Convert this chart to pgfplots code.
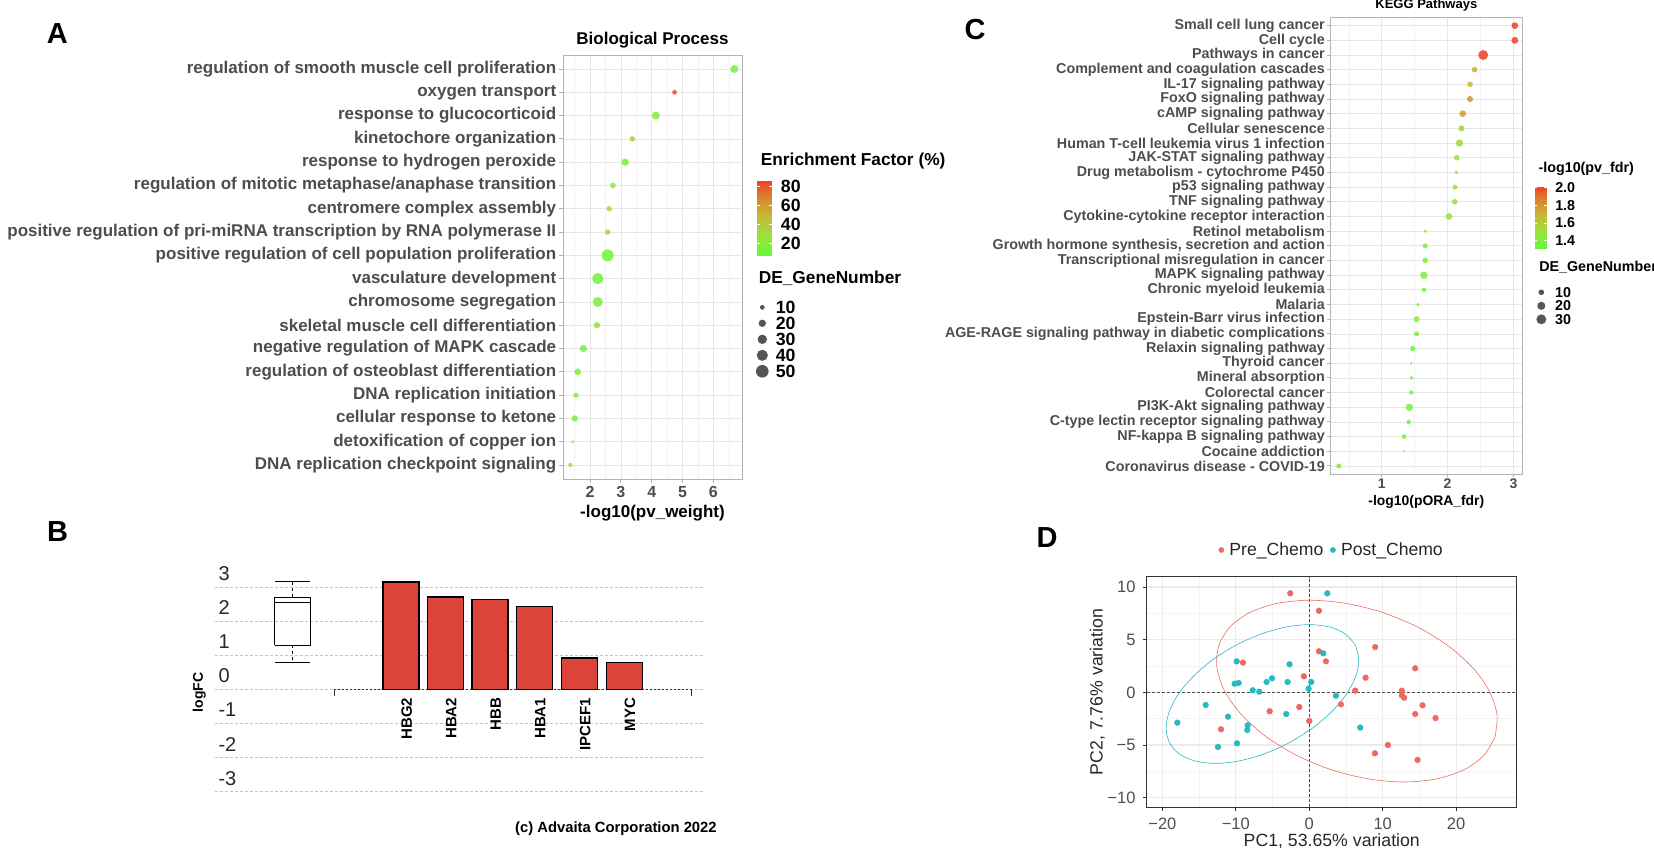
\documentclass[border=0pt]{standalone}
\usepackage{fontspec}
\setmainfont{Liberation Sans}
\usepackage{pgfplots}
\usepackage{pgfplotstable}
\pgfplotsset{compat=1.18}
\pgfplotsset{/pgf/number format/assume math mode=true}

\newcommand{\fs}[1]{\fontsize{#1}{#1}\selectfont}

\definecolor{grey20}{RGB}{51,51,51}
\definecolor{grey30}{RGB}{77,77,77}
\definecolor{grey70}{RGB}{179,179,179}
\definecolor{gridmaj}{RGB}{230,230,230}
\definecolor{gridmin}{RGB}{242,242,242}
\definecolor{gridD}{RGB}{235,235,235}
\definecolor{gridDmin}{RGB}{244,244,244}
\definecolor{gridB}{RGB}{195,195,195}
\definecolor{barred}{RGB}{220,68,58}
\definecolor{prered}{RGB}{238,106,94}
\definecolor{postcyan}{RGB}{40,185,196}
\definecolor{legdot}{RGB}{85,85,85}

\pgfplotsset{
  colormap={ggr}{rgb255=(100,248,60) rgb255=(150,228,60) rgb255=(195,190,55) rgb255=(215,140,50) rgb255=(238,65,40)},
  gglight/.style={
    scale only axis,
    axis line style={grey70, line width=0.9pt},
    tick align=outside, tick pos=left, tick style={grey70, line width=0.9pt},
    xmajorgrids, ymajorgrids, xminorgrids,
    major grid style={gridmaj, line width=0.7pt},
    minor grid style={gridmin, line width=0.5pt},
    minor tick length=0pt,
    y dir=reverse,
  },
  sizelegend/.style={
    scale only axis, xmin=0, xmax=1, y dir=reverse,
    axis line style={draw=none}, major tick length=0pt, xtick=\empty,
    yticklabel pos=right,
  },
}

% panel A: GO biological process
\pgfplotstableread{
y x ef n
1 6.68 15 23
2 4.74 85 10
3 4.13 18 23
4 3.37 36 13
5 3.14 18 20
6 2.74 24 14
7 2.62 31 13
8 2.57 28 13
9 2.57 12 45
10 2.25 12 41
11 2.25 15 33
12 2.22 27 16
13 1.78 15 20
14 1.60 15 17
15 1.54 18 12
16 1.50 15 16
17 1.44 40 5
18 1.36 30 9
}\tabA

\pgfplotstableread{
x y n
0.5 1 10
0.5 2 20
0.5 3 30
0.5 4 40
0.5 5 50
}\tabAsize

% panel C: KEGG pathways
\pgfplotstableread{
y x fdr n
1 3.02 2.05 14
2 3.02 2.05 15
3 2.54 2.05 30
4 2.41 1.72 10
5 2.34 1.70 10
6 2.34 1.80 12
7 2.23 1.80 14
8 2.21 1.58 12
9 2.18 1.55 17
10 2.14 1.50 10
11 2.13 1.50 5
12 2.11 1.48 8
13 2.11 1.48 10
14 2.02 1.45 14
15 1.66 1.38 4
16 1.66 1.42 8
17 1.66 1.38 10
18 1.64 1.40 17
19 1.64 1.38 7
20 1.55 1.38 4
21 1.53 1.40 11
22 1.53 1.40 8
23 1.47 1.33 9
24 1.45 1.35 2
25 1.45 1.35 4
26 1.45 1.38 6
27 1.42 1.38 17
28 1.41 1.38 6
29 1.34 1.35 7
30 1.34 1.45 2
31 0.35 1.50 8
}\tabC

\pgfplotstableread{
x y n
0.5 1 10
0.5 2 20
0.5 3 30
}\tabCsize

% panel D: PCA
\pgfplotstableread{
x y
-2.59 9.40
1.32 7.75
8.98 4.30
1.32 3.89
2.27 2.94
-9.03 2.82
14.43 2.28
7.67 1.39
-0.73 1.52
6.26 0.16
12.61 0.16
12.61 -0.28
12.93 -0.51
4.31 -1.14
15.43 -1.23
-1.36 -1.39
-5.40 -1.80
14.43 -2.06
17.20 -2.44
0.00 -2.72
-12.02 -3.51
10.71 -5.00
8.94 -5.79
14.75 -6.42
}\tabPre

\pgfplotstableread{
x y
2.45 9.40
1.91 3.70
-9.89 2.94
-2.68 2.66
-5.08 1.33
-5.81 0.98
-2.95 0.98
0.27 0.98
-10.16 0.82
-9.62 0.89
-7.71 0.19
-6.81 0.06
-0.09 0.35
3.63 -0.32
-14.11 -1.20
-3.13 -2.06
-11.07 -2.31
-17.97 -2.88
-8.39 -3.13
-8.44 -3.58
6.94 -3.35
-12.43 -5.19
-9.85 -4.84
}\tabPost

\begin{document}
\begin{tikzpicture}
\useasboundingbox (0pt,0pt) rectangle (1654pt,-848pt);

% ---------------- A ----------------
\begin{axis}[gglight,
  at={(563pt,-479pt)}, anchor=south west, width=179pt, height=424pt,
  xmin=1.12, xmax=6.93, ymin=0.4, ymax=18.6,
  xtick={2,3,4,5,6}, minor xtick={1.5,2.5,3.5,4.5,5.5,6.5},
  major tick length=4pt,
  ytick={1,...,18},
  yticklabels={regulation of smooth muscle cell proliferation, oxygen transport,
    response to glucocorticoid, kinetochore organization, response to hydrogen peroxide,
    regulation of mitotic metaphase/anaphase transition, centromere complex assembly,
    positive regulation of pri-miRNA transcription by RNA polymerase II,
    positive regulation of cell population proliferation, vasculature development,
    chromosome segregation, skeletal muscle cell differentiation,
    negative regulation of MAPK cascade, regulation of osteoblast differentiation,
    DNA replication initiation, cellular response to ketone,
    detoxification of copper ion, DNA replication checkpoint signaling},
  yticklabel style={font=\bfseries\fs{17}, text=grey30, inner xsep=2.6pt},
  xticklabel style={font=\bfseries\fs{16}, text=grey30, anchor=base, yshift=-14.4pt},
  title={Biological Process},
  title style={font=\bfseries\fs{17}, at={(axis description cs:0.5,1)}, anchor=base, yshift=4.5pt},
  xlabel={-log10(pv\_weight)},
  xlabel style={font=\bfseries\fs{17}, at={(axis description cs:0.5,0)}, anchor=base, yshift=-38.8pt},
  point meta min=6.9, point meta max=86.4,
  colorbar,
  colorbar style={
    at={(parent axis.north east)}, anchor=north west,
    xshift=6.8pt, yshift=-125.7pt,
    scale only axis, width=14.4pt, height=75pt,
    ytick={20,40,60,80},
    axis line style={draw=none},
    major tick length=2.9pt, tick align=inside, tick style={draw=white, line width=0.8pt},
    yticklabel style={font=\bfseries\fs{17.7}, text=black, inner xsep=9pt},
    title={Enrichment Factor (\%)},
    title style={font=\bfseries\fs{17.3}, at={(axis description cs:0,1)}, anchor=base west, yshift=9.7pt},
  },
]
\addplot[scatter, only marks, mark=*,
  scatter/use mapped color={draw opacity=0, fill=mapped color, fill opacity=0.85},
  point meta=\thisrow{ef},
  visualization depends on={\thisrow{n} \as \genes},
  scatter/@pre marker code/.append style={/tikz/mark size={1.02*sqrt(\genes)-0.88}}]
  table[x=x, y=y] {\tabA};
\end{axis}

\begin{axis}[sizelegend,
  at={(752.3pt,-299.3pt)}, anchor=north west, width=20pt, height=80pt,
  ymin=0.5, ymax=5.5, ytick={1,...,5}, yticklabels={10,20,30,40,50},
  yticklabel style={font=\bfseries\fs{17.7}, text=black},
  title={DE\_GeneNumber},
  title style={font=\bfseries\fs{17.3}, at={(axis description cs:0,1)}, anchor=base west, xshift=3pt, yshift=9.8pt},
]
\addplot[scatter, only marks, mark=*,
  scatter/use mapped color={draw opacity=0, fill=legdot},
  point meta=\thisrow{n},
  visualization depends on={\thisrow{n} \as \genes},
  scatter/@pre marker code/.append style={/tikz/mark size={1.02*sqrt(\genes)-0.88}}]
  table[x=x, y=y] {\tabAsize};
\end{axis}

% ---------------- C ----------------
\begin{axis}[gglight,
  at={(1330pt,-474pt)}, anchor=south west, width=192.7pt, height=457pt,
  xmin=0.215, xmax=3.14, ymin=0.41, ymax=31.55,
  xtick={1,2,3}, minor xtick={0.5,1.5,2.5},
  major tick length=3pt,
  ytick={1,...,31},
  yticklabels={Small cell lung cancer, Cell cycle, Pathways in cancer,
    Complement and coagulation cascades, IL-17 signaling pathway, FoxO signaling pathway,
    cAMP signaling pathway, Cellular senescence, Human T-cell leukemia virus 1 infection,
    JAK-STAT signaling pathway, Drug metabolism - cytochrome P450, p53 signaling pathway,
    TNF signaling pathway, Cytokine-cytokine receptor interaction, Retinol metabolism,
    {Growth hormone synthesis, secretion and action}, Transcriptional misregulation in cancer,
    MAPK signaling pathway, Chronic myeloid leukemia, Malaria, Epstein-Barr virus infection,
    AGE-RAGE signaling pathway in diabetic complications, Relaxin signaling pathway,
    Thyroid cancer, Mineral absorption, Colorectal cancer, PI3K-Akt signaling pathway,
    C-type lectin receptor signaling pathway, NF-kappa B signaling pathway,
    Cocaine addiction, Coronavirus disease - COVID-19},
  yticklabel style={font=\bfseries\fs{14.3}, text=grey30, inner xsep=2pt},
  xticklabel style={font=\bfseries\fs{14}, text=grey30, anchor=base, yshift=-11.3pt},
  title={KEGG Pathways},
  title style={font=\bfseries\fs{13}, inner sep=0pt, at={(axis description cs:0.5,1)}, anchor=base, yshift=2.3pt},
  xlabel={-log10(pORA\_fdr)},
  xlabel style={font=\bfseries\fs{13.9}, at={(axis description cs:0.5,0)}, anchor=base, yshift=-31pt},
  point meta min=1.317, point meta max=2.02,
  colorbar,
  colorbar style={
    at={(parent axis.north east)}, anchor=north west,
    xshift=3.8pt, yshift=-169pt,
    scale only axis, width=11.7pt, height=62pt,
    ytick={1.4,1.6,1.8,2.0}, yticklabels={1.4,1.6,1.8,2.0},
    axis line style={draw=none},
    major tick length=2.3pt, tick align=inside, tick style={draw=white, line width=0.7pt},
    yticklabel style={font=\bfseries\fs{14.3}, text=black, inner xsep=8.3pt},
    title={-log10(pv\_fdr)},
    title style={font=\bfseries\fs{14.3}, at={(axis description cs:0,1)}, anchor=base west, yshift=8pt},
  },
]
\addplot[scatter, only marks, mark=*,
  scatter/use mapped color={draw opacity=0, fill=mapped color, fill opacity=0.85},
  point meta=\thisrow{fdr},
  visualization depends on={\thisrow{n} \as \genes},
  scatter/@pre marker code/.append style={/tikz/mark size={0.92*sqrt(\genes)-0.08}}]
  table[x=x, y=y] {\tabC};
\end{axis}

\begin{axis}[sizelegend,
  at={(1535.3pt,-285.55pt)}, anchor=north west, width=12pt, height=40.5pt,
  ymin=0.5, ymax=3.5, ytick={1,2,3}, yticklabels={10,20,30},
  yticklabel style={font=\bfseries\fs{14.3}, text=black, inner xsep=7.7pt},
  title={DE\_GeneNumber},
  title style={font=\bfseries\fs{14.3}, at={(axis description cs:0,1)}, anchor=base west, xshift=0.4pt, yshift=7.85pt},
]
\addplot[scatter, only marks, mark=*,
  scatter/use mapped color={draw opacity=0, fill=legdot},
  point meta=\thisrow{n},
  visualization depends on={\thisrow{n} \as \genes},
  scatter/@pre marker code/.append style={/tikz/mark size={0.92*sqrt(\genes)-0.08}}]
  table[x=x, y=y] {\tabCsize};
\end{axis}

% ---------------- B ----------------
\begin{axis}[
  at={(215pt,-812.1pt)}, anchor=south west, scale only axis, width=490pt, height=245.6pt,
  xmin=215, xmax=705, ymin=-3.6, ymax=3.6,
  axis x line*=middle, axis y line*=left,
  axis line style={draw=none}, major tick length=0pt,
  ytick={-3,...,3}, yticklabels={-3,-2,-1,0,1,2,3},
  ymajorgrids, major grid style={gridB, dash pattern=on 2.5pt off 2.5pt, line width=0.9pt},
  yticklabel style={font=\fs{20}, text=black!85, anchor=west, yshift=13.4pt},
  xtick={401,445.5,490,534.5,579.5,624.3},
  xticklabels={HBG2,HBA2,HBB,HBA1,IPCEF1,MYC},
  xticklabel style={font=\bfseries\fs{15}, xshift=5.7pt, yshift=-5pt, rotate=90, anchor=east},
  ylabel={logFC},
  ylabel style={font=\bfseries\fs{14}, at={(axis description cs:-0.0322,0.487)}, anchor=center},
]
% box plot of all logFC values
\addplot[black, line width=1.2pt, line join=miter] coordinates {(274.5,1.29) (310.5,1.29) (310.5,2.70) (274.5,2.70) (274.5,1.29)};
\addplot[black, line width=1.2pt] coordinates {(274.5,2.54) (310.5,2.54)};
\addplot[black, line width=1pt, dash pattern=on 3pt off 3pt] coordinates {(292.5,2.70) (292.5,3.15)};
\addplot[black, line width=1pt, dash pattern=on 3pt off 3pt] coordinates {(292.5,1.29) (292.5,0.79)};
\addplot[black, line width=1.2pt] coordinates {(275,3.15) (310,3.15)};
\addplot[black, line width=1.2pt] coordinates {(275,0.79) (310,0.79)};
% baseline
\addplot[black!80, line width=0.8pt, dash pattern=on 2pt off 2pt] coordinates {(334.3,0) (691.7,0)};
\addplot[black!80, line width=0.8pt] coordinates {(334.3,0) (334.3,-0.21)};
\addplot[black!80, line width=0.8pt] coordinates {(691.7,0) (691.7,-0.21)};
% bars
\addplot[ybar, bar width=36pt, bar shift=0pt, fill=barred, draw=black, line width=1.3pt]
  coordinates {(401,3.15) (445.5,2.71) (490,2.63) (534.5,2.42) (579.5,0.92) (624.3,0.78)};
\end{axis}

% ---------------- D ----------------
\begin{axis}[
  at={(1146.7pt,-807.3pt)}, anchor=south west, scale only axis, width=370.1pt, height=230.6pt,
  xmin=-22.14, xmax=28.27, ymin=-10.92, ymax=10.98,
  xtick={-20,-10,0,10,20}, xticklabels={−20,−10,0,10,20},
  ytick={-10,-5,0,5,10}, yticklabels={−10,−5,0,5,10},
  minor x tick num=1, minor y tick num=1, minor tick length=0pt,
  grid=both, major grid style={gridD, line width=1.2pt}, minor grid style={gridDmin, line width=0.6pt},
  axis line style={grey20, line width=1pt},
  tick align=outside, tick pos=left, major tick length=3.5pt, tick style={grey20, line width=0.8pt},
  ticklabel style={font=\fs{16.5}, text=grey30},
  xticklabel style={anchor=base, yshift=-18.4pt},
  yticklabel style={inner xsep=7.5pt},
  xlabel={PC1, 53.65\% variation},
  xlabel style={font=\fs{17.7}, text=black!85, at={(axis description cs:0.5,0)}, anchor=base, yshift=-39pt},
  ylabel={PC2, 7.76\% variation},
  ylabel style={font=\fs{17.7}, text=black!85, at={(axis description cs:0,0.5)}, anchor=base, yshift=44pt},
  legend columns=2,
  legend image code/.code={\draw[#1, mark size=2.6pt] plot coordinates {(0pt,0pt)};},
  legend style={draw=none, fill=none, at={(axis description cs:0.5,1)}, anchor=center, yshift=26.7pt,
    font=\fs{17.6}, text=black!85,
    /tikz/every odd column/.append style={column sep=3.5pt},
    /tikz/every even column/.append style={column sep=5pt}},
  legend cell align=left,
]
\addplot[forget plot, grey30, line width=0.6pt, dash pattern=on 3pt off 2pt] coordinates {(0,-10.92) (0,10.98)};
\addplot[forget plot, grey30, line width=0.6pt, dash pattern=on 3pt off 2pt] coordinates {(-22.14,0) (28.27,0)};
\addplot[forget plot, prered, line width=0.6pt, smooth] coordinates {
  (25.30,-4.24) (23.74,-6.02) (21.01,-7.38) (17.29,-8.23) (12.83,-8.52) (7.94,-8.21)
  (2.95,-7.34) (-1.79,-5.96) (-5.97,-4.16) (-9.30,-2.07) (-11.56,0.16) (-12.58,2.39)
  (-12.30,4.47) (-10.74,6.25) (-8.01,7.61) (-4.29,8.46) (0.17,8.75) (5.06,8.44)
  (10.04,7.57) (14.79,6.19) (18.97,4.39) (22.30,2.31) (24.55,0.07) (25.58,-2.16) (25.30,-4.24)};
\addplot[forget plot, postcyan, line width=0.6pt, smooth] coordinates {
  (6.27,4.49) (6.75,3.12) (6.34,1.53) (5.06,-0.17) (3.00,-1.88) (0.30,-3.47)
  (-2.85,-4.83) (-6.24,-5.87) (-9.64,-6.53) (-12.82,-6.75) (-15.56,-6.52) (-17.68,-5.86)
  (-19.02,-4.81) (-19.50,-3.45) (-19.09,-1.86) (-17.81,-0.15) (-15.75,1.55) (-13.06,3.14)
  (-9.90,4.51) (-6.51,5.55) (-3.11,6.21) (0.07,6.43) (2.81,6.20) (4.92,5.54) (6.27,4.49)};
\addplot[only marks, mark=*, mark size=2.9pt, color=prered, mark options={draw=none, fill=prered}] table[x=x, y=y] {\tabPre};
\addlegendentry{Pre\_Chemo}
\addplot[only marks, mark=*, mark size=2.9pt, color=postcyan, mark options={draw=none, fill=postcyan}] table[x=x, y=y] {\tabPost};
\addlegendentry{Post\_Chemo}
\end{axis}

% panel letters and note
\node[font=\bfseries\fs{29}] at (57.3pt,-33.7pt) {A};
\node[font=\bfseries\fs{29}] at (57.5pt,-532pt) {B};
\node[font=\bfseries\fs{29}] at (975pt,-30pt) {C};
\node[font=\bfseries\fs{29}] at (1047pt,-537.5pt) {D};
\node[font=\bfseries\fs{14.8}, anchor=west, inner sep=0pt] at (515pt,-828.3pt) {(c) Advaita Corporation 2022};
\end{tikzpicture}
\end{document}
